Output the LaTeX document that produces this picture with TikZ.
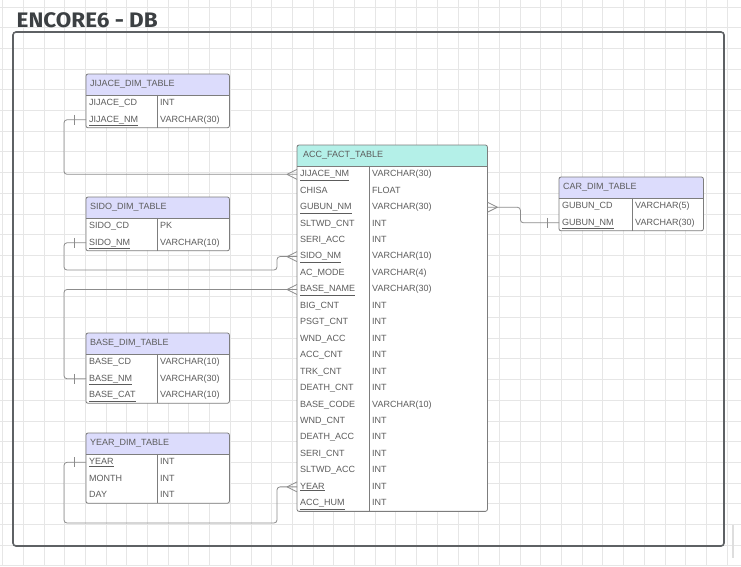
\documentclass[tikz,border=0pt]{standalone}
\usepackage{fontspec}
\setmainfont{Liberation Sans}
\newfontfamily\titlefont{Fira Sans}
\usetikzlibrary{calc}

\definecolor{gridc}{HTML}{E6E6E6}
\definecolor{framec}{HTML}{5E6164}
\definecolor{titlec}{HTML}{3C4043}
\definecolor{tblc}{HTML}{7D7D7D}
\definecolor{txtc}{HTML}{5C5C5C}
\definecolor{connc}{HTML}{8C8C8C}
\definecolor{dimfill}{HTML}{DCDCFC}
\definecolor{factfill}{HTML}{B4F0E8}

\newcommand{\rowh}{16.45}
\newcommand{\hdrh}{20.5}

\tikzset{
  cellfont/.style={font=\fontsize{9}{11}\selectfont, text=txtc},
  hdrcell/.style={cellfont, inner sep=0pt, minimum height=\hdrh pt, text height=6.6pt, text depth=1.8pt},
  dimhdr/.style={fill=dimfill},
  facthdr/.style={fill=factfill},
  rowcell/.style={cellfont, inner sep=0pt, minimum height=\rowh pt, text height=6.6pt, text depth=1.8pt},
  typecell/.style={cellfont, inner xsep=3pt, inner ysep=0pt, text height=6.6pt, text depth=1.8pt},
  tbl/.style={draw=tblc, line width=0.8pt},
  conn/.style={draw=connc, line width=0.8pt, rounded corners=3pt},
}

% #1 name, #2 left, #3 top, #4 width, #5 key column width,
% #6 header style, #7 title, #8 number of rows, #9 rows (field/type/key flag)
\newcommand{\ertable}[9]{%
  \fill[white, rounded corners=2pt] (#2,#3) rectangle ++(#4,{\hdrh+#8*\rowh});
  \node[hdrcell, #6, anchor=north west] (#1) at (#2,#3) {\makebox[#4pt][l]{\hspace{4pt}#7}};
  \foreach[count=\i] \fa/\fb/\fc in {#9}{%
    \node[rowcell, anchor=north west] (#1-\i) at ($(#1.south west)+(0,{(\i-1)*\rowh})$)
      {\makebox[#4pt][l]{\hspace{3pt}\ifnum\fc=1 \underline{\fa}\else\fa\fi}};
    \node[typecell, anchor=west] (#1-\i-t) at ($(#1-\i.west)+(#5,0)$) {\fb};
  }
  \draw[tbl, rounded corners=2pt] (#1.north west) rectangle ($(#1.south east)+(0,{#8*\rowh})$);
  \draw[tbl] (#1.south west) -- (#1.south east);
  \draw[tbl] ($(#1.south west)+(#5,0)$) -- ++(0,{#8*\rowh});
}

% crow's foot (many) ending at a table edge; #2 = -1 for a left edge, 1 for a right edge
\newcommand{\manyend}[2]{%
  \draw[conn] ([xshift=#2*10pt]#1) -- ([yshift=5pt]#1)
              ([xshift=#2*10pt]#1) -- ([yshift=-5pt]#1);}
% single bar (one) near a table edge
\newcommand{\oneend}[2]{%
  \draw[conn] ([xshift=#2*12pt,yshift=5pt]#1) -- ([xshift=#2*12pt,yshift=-5pt]#1);}

\begin{document}
\begin{tikzpicture}[x=1pt,y=-1pt]
  \fill[white] (0,0) rectangle (741,566);
  \useasboundingbox (0,0) rectangle (741,566);

  % background grid
  \foreach \gx in {0,...,35} \draw[gridc, line width=0.7pt] ({2.5+20.7*\gx},0) -- ({2.5+20.7*\gx},566);
  \foreach \gy in {0,...,27} \draw[gridc, line width=0.7pt] (0,{6.9+20.7*\gy}) -- (741,{6.9+20.7*\gy});

  % title and frame
  \node[anchor=base west, inner sep=0pt, text=titlec, font=\titlefont\bfseries\fontsize{21}{24}\selectfont]
    (title) at (16.5,27) {\scalebox{1.07}[1]{ENCORE6 - DB}};
  \draw[framec, line width=1.6pt, rounded corners=3pt] (13,32) rectangle (724,546);
  \draw[gridc!70!gray!60, line width=1.4pt] (733,525) -- (733,558);

  % tables
  \ertable{jij}{86}{74}{143}{71}{dimhdr}{JIJACE\_DIM\_TABLE}{2}{%
    JIJACE\_CD/INT/0, JIJACE\_NM/VARCHAR(30)/1}
  \ertable{sido}{86}{197}{143}{71}{dimhdr}{SIDO\_DIM\_TABLE}{2}{%
    SIDO\_CD/PK/0, SIDO\_NM/VARCHAR(10)/1}
  \ertable{base}{86}{333}{143}{71}{dimhdr}{BASE\_DIM\_TABLE}{3}{%
    BASE\_CD/VARCHAR(10)/0, BASE\_NM/VARCHAR(30)/1, BASE\_CAT/VARCHAR(10)/1}
  \ertable{year}{86}{433}{143}{71}{dimhdr}{YEAR\_DIM\_TABLE}{3}{%
    YEAR/INT/1, MONTH/INT/0, DAY/INT/0}
  \ertable{car}{559}{177}{144}{73}{dimhdr}{CAR\_DIM\_TABLE}{2}{%
    GUBUN\_CD/VARCHAR(5)/0, GUBUN\_NM/VARCHAR(30)/1}
  \ertable{acc}{297}{145}{190}{72}{facthdr}{\hspace{2pt}ACC\_FACT\_TABLE}{21}{%
    JIJACE\_NM/VARCHAR(30)/1, CHISA/FLOAT/0, GUBUN\_NM/VARCHAR(30)/1,
    SLTWD\_CNT/INT/0, SERI\_ACC/INT/0, SIDO\_NM/VARCHAR(10)/1,
    AC\_MODE/VARCHAR(4)/0, BASE\_NAME/VARCHAR(30)/1, BIG\_CNT/INT/0,
    PSGT\_CNT/INT/0, WND\_ACC/INT/0, ACC\_CNT/INT/0, TRK\_CNT/INT/0,
    DEATH\_CNT/INT/0, BASE\_CODE/VARCHAR(10)/0, WND\_CNT/INT/0,
    DEATH\_ACC/INT/0, SERI\_CNT/INT/0, SLTWD\_ACC/INT/0, YEAR/INT/1,
    ACC\_HUM/INT/1}

  % relationships
  \draw[conn] (jij-2.west) -- ++(-22,0) |- (acc-1.west);
  \oneend{jij-2.west}{-1}  \manyend{acc-1.west}{-1}

  \draw[conn] (sido-2.west) -- ++(-22,0) |- (277,270) |- (acc-6.west);
  \oneend{sido-2.west}{-1} \manyend{acc-6.west}{-1}

  \draw[conn] (base-2.west) -- ++(-22,0) |- (acc-8.west);
  \oneend{base-2.west}{-1} \manyend{acc-8.west}{-1}

  \draw[conn] (year-1.west) -- ++(-22,0) |- (277,523) |- (acc-20.west);
  \oneend{year-1.west}{-1} \manyend{acc-20.west}{-1}

  \draw[conn] (acc-3.east) -- ++(33,0) |- (car-2.west);
  \manyend{acc-3.east}{1} \oneend{car-2.west}{-1}
\end{tikzpicture}
\end{document}
